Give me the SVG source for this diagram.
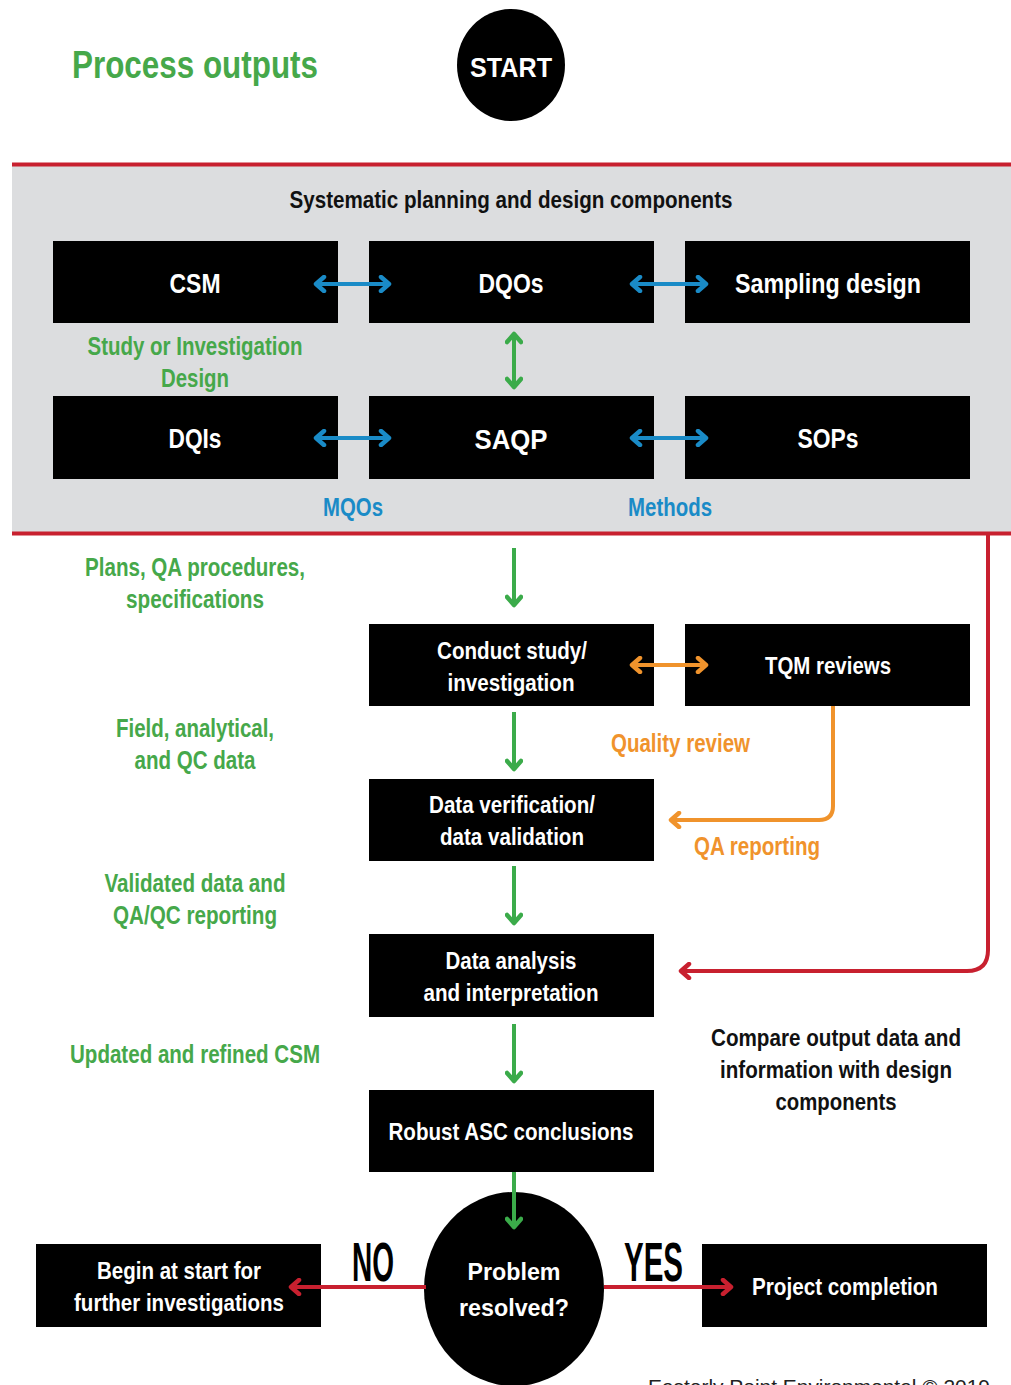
<svg xmlns="http://www.w3.org/2000/svg" width="1011" height="1385" viewBox="0 0 1011 1385">
<style>
.t{font-family:"Liberation Sans",Arial,sans-serif;font-weight:bold;}
.w{fill:#fff;font-size:28px;text-anchor:middle;}
.ws{fill:#fff;font-size:24px;text-anchor:middle;}
.g{fill:#46a84a;font-size:25px;text-anchor:middle;}
.o{fill:#f0932c;font-size:25px;}
.b{fill:#1a8bc7;font-size:25px;text-anchor:middle;}
.k{fill:#111;font-size:24px;text-anchor:middle;}
.box{fill:#000;}
.ab{stroke:#1a8bc7;stroke-width:4;fill:none;}
.ag{stroke:#3bab4a;stroke-width:4;fill:none;}
.ao{stroke:#f0932c;stroke-width:4;fill:none;}
.ar{stroke:#c8202f;stroke-width:4;fill:none;}
</style>
<defs>
<marker id="mb" viewBox="0 0 14 18" refX="11" refY="9" markerWidth="14" markerHeight="18" orient="auto-start-reverse" markerUnits="userSpaceOnUse"><path d="M3,2 L11,9 L3,16" fill="none" stroke="#1a8bc7" stroke-width="4.5" stroke-linecap="round" stroke-linejoin="round"/></marker>
<marker id="mg" viewBox="0 0 14 18" refX="11" refY="9" markerWidth="14" markerHeight="18" orient="auto-start-reverse" markerUnits="userSpaceOnUse"><path d="M3,2 L11,9 L3,16" fill="none" stroke="#3bab4a" stroke-width="4.5" stroke-linecap="round" stroke-linejoin="round"/></marker>
<marker id="mo" viewBox="0 0 14 18" refX="11" refY="9" markerWidth="14" markerHeight="18" orient="auto-start-reverse" markerUnits="userSpaceOnUse"><path d="M3,2 L11,9 L3,16" fill="none" stroke="#f0932c" stroke-width="4.5" stroke-linecap="round" stroke-linejoin="round"/></marker>
<marker id="mr" viewBox="0 0 14 18" refX="11" refY="9" markerWidth="14" markerHeight="18" orient="auto-start-reverse" markerUnits="userSpaceOnUse"><path d="M3,2 L11,9 L3,16" fill="none" stroke="#c8202f" stroke-width="4.5" stroke-linecap="round" stroke-linejoin="round"/></marker>
</defs>
<rect width="1011" height="1385" fill="#fff"/>

<!-- panel -->
<rect x="12" y="166" width="999" height="367" fill="#dcdddf"/>
<line x1="12" y1="164.5" x2="1011" y2="164.5" stroke="#c8202f" stroke-width="4"/>
<line x1="12" y1="533.5" x2="1011" y2="533.5" stroke="#c8202f" stroke-width="4"/>

<text class="t" x="72" y="78" font-size="39" fill="#46a84a" textLength="246" lengthAdjust="spacingAndGlyphs">Process outputs</text>

<g id="start"><ellipse cx="511" cy="65" rx="54" ry="56" fill="#000"/><text class="t w" x="511" y="77" font-size="31" textLength="82" lengthAdjust="spacingAndGlyphs">START</text></g>

<text class="t k" x="511" y="208" font-size="24" textLength="443" lengthAdjust="spacingAndGlyphs">Systematic planning and design components</text>

<g id="csm"><rect class="box" x="53" y="241" width="285" height="82"/><text class="t w" x="195" y="293" textLength="51" lengthAdjust="spacingAndGlyphs">CSM</text></g>
<g id="dqos"><rect class="box" x="369" y="241" width="285" height="82"/><text class="t w" x="511" y="293" textLength="65" lengthAdjust="spacingAndGlyphs">DQOs</text></g>
<g id="sampling"><rect class="box" x="685" y="241" width="285" height="82"/><text class="t w" x="828" y="293" textLength="186" lengthAdjust="spacingAndGlyphs">Sampling design</text></g>
<g id="dqis"><rect class="box" x="53" y="396" width="285" height="83"/><text class="t w" x="195" y="448" textLength="53" lengthAdjust="spacingAndGlyphs">DQIs</text></g>
<g id="saqp"><rect class="box" x="369" y="396" width="285" height="83"/><text class="t w" x="511" y="449" font-size="31" textLength="73" lengthAdjust="spacingAndGlyphs">SAQP</text></g>
<g id="sops"><rect class="box" x="685" y="396" width="285" height="83"/><text class="t w" x="828" y="448" textLength="61" lengthAdjust="spacingAndGlyphs">SOPs</text></g>

<text class="t g" x="195" y="355" textLength="215" lengthAdjust="spacingAndGlyphs">Study or Investigation</text>
<text class="t g" x="195" y="387" textLength="68" lengthAdjust="spacingAndGlyphs">Design</text>
<text class="t b" x="353" y="516" textLength="60" lengthAdjust="spacingAndGlyphs">MQOs</text>
<text class="t b" x="670" y="516" textLength="84" lengthAdjust="spacingAndGlyphs">Methods</text>

<text class="t g" x="195" y="576" textLength="220" lengthAdjust="spacingAndGlyphs">Plans, QA procedures,</text>
<text class="t g" x="195" y="608" textLength="138" lengthAdjust="spacingAndGlyphs">specifications</text>

<g id="conduct"><rect class="box" x="369" y="624" width="285" height="82"/><text class="t ws" x="512" y="659" textLength="150" lengthAdjust="spacingAndGlyphs">Conduct study/</text><text class="t ws" x="511" y="691" textLength="127" lengthAdjust="spacingAndGlyphs">investigation</text></g>
<g id="tqm"><rect class="box" x="685" y="624" width="285" height="82"/><text class="t ws" x="828" y="674" textLength="126" lengthAdjust="spacingAndGlyphs">TQM reviews</text></g>

<text class="t o" x="611" y="752" textLength="139" lengthAdjust="spacingAndGlyphs">Quality review</text>
<text class="t o" x="694" y="855" textLength="126" lengthAdjust="spacingAndGlyphs">QA reporting</text>

<text class="t g" x="195" y="737" textLength="158" lengthAdjust="spacingAndGlyphs">Field, analytical,</text>
<text class="t g" x="195" y="769" textLength="121" lengthAdjust="spacingAndGlyphs">and QC data</text>

<g id="verify"><rect class="box" x="369" y="779" width="285" height="82"/><text class="t ws" x="512" y="813" textLength="166" lengthAdjust="spacingAndGlyphs">Data verification/</text><text class="t ws" x="512" y="845" textLength="144" lengthAdjust="spacingAndGlyphs">data validation</text></g>

<text class="t g" x="195" y="892" textLength="181" lengthAdjust="spacingAndGlyphs">Validated data and</text>
<text class="t g" x="195" y="924" textLength="164" lengthAdjust="spacingAndGlyphs">QA/QC reporting</text>

<g id="analysis"><rect class="box" x="369" y="934" width="285" height="83"/><text class="t ws" x="511" y="969" textLength="131" lengthAdjust="spacingAndGlyphs">Data analysis</text><text class="t ws" x="511" y="1001" textLength="175" lengthAdjust="spacingAndGlyphs">and interpretation</text></g>

<text class="t g" x="195" y="1063" textLength="250" lengthAdjust="spacingAndGlyphs">Updated and refined CSM</text>
<text class="t k" x="836" y="1046" textLength="250" lengthAdjust="spacingAndGlyphs">Compare output data and</text>
<text class="t k" x="836" y="1078" textLength="232" lengthAdjust="spacingAndGlyphs">information with design</text>
<text class="t k" x="836" y="1110" textLength="121" lengthAdjust="spacingAndGlyphs">components</text>

<g id="robust"><rect class="box" x="369" y="1090" width="285" height="82"/><text class="t ws" x="511" y="1140" textLength="245" lengthAdjust="spacingAndGlyphs">Robust ASC conclusions</text></g>

<g id="begin"><rect class="box" x="36" y="1244" width="285" height="83"/><text class="t ws" x="179" y="1279" textLength="164" lengthAdjust="spacingAndGlyphs">Begin at start for</text><text class="t ws" x="179" y="1311" textLength="210" lengthAdjust="spacingAndGlyphs">further investigations</text></g>
<g id="complete"><rect class="box" x="702" y="1244" width="285" height="83"/><text class="t ws" x="845" y="1295" textLength="186" lengthAdjust="spacingAndGlyphs">Project completion</text></g>

<text class="t" x="352" y="1281" font-size="55" fill="#000" textLength="42" lengthAdjust="spacingAndGlyphs">NO</text>
<text class="t" x="624" y="1281" font-size="55" fill="#000" textLength="59" lengthAdjust="spacingAndGlyphs">YES</text>

<g id="connectors">
<line class="ab" x1="316" y1="284" x2="389" y2="284" marker-start="url(#mb)" marker-end="url(#mb)"/>
<line class="ab" x1="632" y1="284" x2="706" y2="284" marker-start="url(#mb)" marker-end="url(#mb)"/>
<line class="ab" x1="316" y1="438" x2="389" y2="438" marker-start="url(#mb)" marker-end="url(#mb)"/>
<line class="ab" x1="632" y1="438" x2="706" y2="438" marker-start="url(#mb)" marker-end="url(#mb)"/>
<line class="ag" x1="514" y1="334" x2="514" y2="387" marker-start="url(#mg)" marker-end="url(#mg)"/>
<line class="ag" x1="514" y1="548" x2="514" y2="605" marker-end="url(#mg)"/>
<line class="ao" x1="632" y1="665" x2="706" y2="665" marker-start="url(#mo)" marker-end="url(#mo)"/>
<path class="ao" d="M833,706 V806 Q833,820 819,820 H671" marker-end="url(#mo)"/>
<line class="ag" x1="514" y1="712" x2="514" y2="769" marker-end="url(#mg)"/>
<line class="ag" x1="514" y1="866" x2="514" y2="923" marker-end="url(#mg)"/>
<line class="ag" x1="514" y1="1024" x2="514" y2="1081" marker-end="url(#mg)"/>
<path class="ar" d="M988,533 V950 Q988,971 967,971 H681" marker-end="url(#mr)"/>
</g>

<g id="problem"><ellipse cx="514" cy="1289" rx="90" ry="97" fill="#000"/><text class="t ws" x="514" y="1280" font-size="27" textLength="93" lengthAdjust="spacingAndGlyphs">Problem</text><text class="t ws" x="514" y="1316" font-size="27" textLength="110" lengthAdjust="spacingAndGlyphs">resolved?</text></g>

<g id="connectors2">
<line class="ag" x1="514" y1="1172" x2="514" y2="1227" marker-end="url(#mg)"/>
<line class="ar" x1="426" y1="1287" x2="291" y2="1287" marker-end="url(#mr)"/>
<line class="ar" x1="604" y1="1287" x2="731" y2="1287" marker-end="url(#mr)"/>
</g>

<text x="648" y="1394" font-family="'Liberation Sans',Arial,sans-serif" font-size="21" fill="#222" textLength="342" lengthAdjust="spacingAndGlyphs">Easterly Point Environmental © 2019</text>
</svg>
